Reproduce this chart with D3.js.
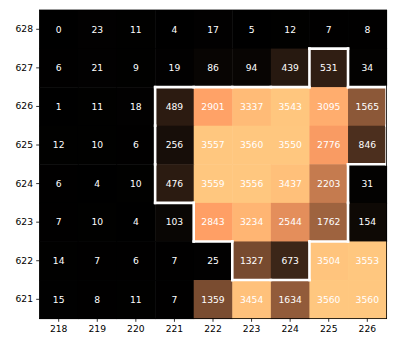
<!DOCTYPE html>
<html>
<head>
<meta charset="utf-8">
<script src="https://cdn.jsdelivr.net/npm/d3@7"></script>
<style>
  body { margin: 0; background: #fff; }
  svg { display: block; font-family: "DejaVu Sans", sans-serif; }
</style>
</head>
<body>
<div id="app"></div>
<script>
const cols = [218, 219, 220, 221, 222, 223, 224, 225, 226];
const rows = [628, 627, 626, 625, 624, 623, 622, 621];

const values = [
  [0, 23, 11, 4, 17, 5, 12, 7, 8],
  [6, 21, 9, 19, 86, 94, 439, 531, 34],
  [1, 11, 18, 489, 2901, 3337, 3543, 3095, 1565],
  [12, 10, 6, 256, 3557, 3560, 3550, 2776, 846],
  [6, 4, 10, 476, 3559, 3556, 3437, 2203, 31],
  [7, 10, 4, 103, 2843, 3234, 2544, 1762, 154],
  [14, 7, 6, 7, 25, 1327, 673, 3504, 3553],
  [15, 8, 11, 7, 1359, 3454, 1634, 3560, 3560]
];

// cells inside the white outline
const region = [
  [0, 0, 0, 0, 0, 0, 0, 0, 0],
  [0, 0, 0, 0, 0, 0, 0, 1, 0],
  [0, 0, 0, 1, 1, 1, 1, 1, 1],
  [0, 0, 0, 1, 1, 1, 1, 1, 1],
  [0, 0, 0, 1, 1, 1, 1, 1, 0],
  [0, 0, 0, 0, 1, 1, 1, 1, 0],
  [0, 0, 0, 0, 0, 1, 1, 0, 0],
  [0, 0, 0, 0, 0, 0, 0, 0, 0]
];

const W = 415, H = 346;
const plotLeft = 39.4, plotRight = 386.6, plotTop = 10, plotBottom = 318.6;

const svg = d3.select('#app')
  .append('svg')
  .attr('width', W)
  .attr('height', H);

const x = d3.scaleBand().domain(cols).range([plotLeft, plotRight]);
const y = d3.scaleBand().domain(rows).range([plotTop, plotBottom]);

// matplotlib "copper"
const vmax = 3560;
const copper = v => {
  const t = Math.max(0, Math.min(1, v / vmax));
  return d3.rgb(255 * Math.min(1, 1.25 * t), 255 * 0.7812 * t, 255 * 0.4975 * t);
};

const cells = [];
values.forEach((r, i) => r.forEach((v, j) => cells.push({ row: rows[i], col: cols[j], v, i, j })));

svg.append('g')
  .selectAll('rect')
  .data(cells)
  .join('rect')
  .attr('x', d => x(d.col))
  .attr('y', d => y(d.row))
  .attr('width', x.bandwidth() + 0.5)
  .attr('height', y.bandwidth() + 0.5)
  .attr('fill', d => copper(d.v));

svg.append('g')
  .attr('font-size', '9.2px')
  .attr('fill', '#fff')
  .attr('text-anchor', 'middle')
  .selectAll('text')
  .data(cells)
  .join('text')
  .attr('x', d => x(d.col) + x.bandwidth() / 2)
  .attr('y', d => y(d.row) + y.bandwidth() / 2)
  .attr('dy', '0.36em')
  .text(d => d.v);

// outline of the region
const inside = (i, j) => i >= 0 && i < rows.length && j >= 0 && j < cols.length && region[i][j] === 1;
const edges = [];
cells.forEach(d => {
  if (!inside(d.i, d.j)) return;
  const x0 = x(d.col), x1 = x0 + x.bandwidth();
  const y0 = y(d.row), y1 = y0 + y.bandwidth();
  if (!inside(d.i - 1, d.j)) edges.push([x0, y0, x1, y0]);
  if (!inside(d.i + 1, d.j)) edges.push([x0, y1, x1, y1]);
  if (!inside(d.i, d.j - 1)) edges.push([x0, y0, x0, y1]);
  if (!inside(d.i, d.j + 1)) edges.push([x1, y0, x1, y1]);
});

svg.append('g')
  .attr('stroke', '#fff')
  .attr('stroke-width', 2.6)
  .attr('stroke-linecap', 'square')
  .selectAll('line')
  .data(edges)
  .join('line')
  .attr('x1', d => d[0])
  .attr('y1', d => d[1])
  .attr('x2', d => d[2])
  .attr('y2', d => d[3]);

// spines
svg.append('rect')
  .attr('x', plotLeft)
  .attr('y', plotTop)
  .attr('width', plotRight - plotLeft)
  .attr('height', plotBottom - plotTop)
  .attr('fill', 'none')
  .attr('stroke', '#000')
  .attr('stroke-width', 0.8);

const xAxis = svg.append('g')
  .attr('transform', `translate(0,${plotBottom})`)
  .call(d3.axisBottom(x).tickSize(3.2).tickPadding(3.2));

const yAxis = svg.append('g')
  .attr('transform', `translate(${plotLeft},0)`)
  .call(d3.axisLeft(y).tickSize(3.2).tickPadding(3.2));

[xAxis, yAxis].forEach(g => {
  g.select('.domain').remove();
  g.selectAll('line').attr('stroke', '#000').attr('stroke-width', 0.8);
  g.selectAll('text')
    .attr('fill', '#000')
    .attr('font-size', '9.2px')
    .attr('font-family', '"DejaVu Sans", sans-serif');
});
</script>
</body>
</html>
